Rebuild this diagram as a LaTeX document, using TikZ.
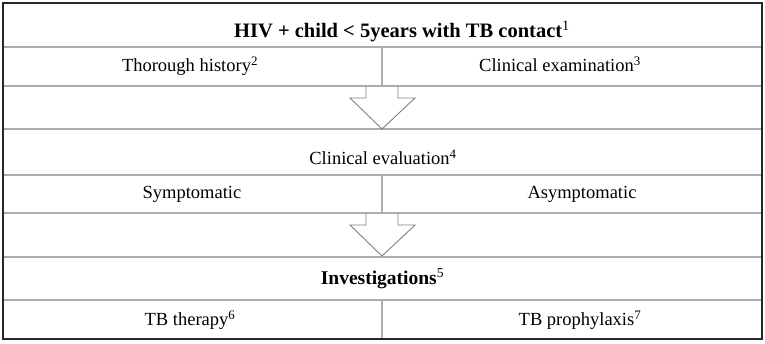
\documentclass[tikz,border=0pt]{standalone}
\usepackage{fontspec}
\setmainfont{Liberation Serif}
\usetikzlibrary{positioning}

\begin{document}
\begin{tikzpicture}[
  x=1pt, y=-1pt,
  font=\fontsize{18.5}{22}\selectfont,
  cell/.style={inner sep=0pt, anchor=base},
  headcell/.style={cell, font=\fontsize{20.5}{24}\selectfont\bfseries},
  rule/.style={draw=black!32, line width=1.4pt},
  frame/.style={draw=black!85, line width=1.6pt},
  blockarrow/.style={draw=black!50, line width=0.9pt, line join=miter}
]
\useasboundingbox (0,0) rectangle (765,344);

% table rules
\foreach \y in {47,86,129,175,213,257,300}
  \draw[rule] (3,\y) -- (762,\y);
\draw[rule] (382,47) -- (382,86);
\draw[rule] (382,175) -- (382,213);
\draw[rule] (382,300) -- (382,339);

% down arrows between the rows
\foreach \t in {86,213}
  \draw[blockarrow] (366,\t) -- (366,\t+12) -- (350,\t+12) -- (382,\t+43)
    -- (415,\t+12) -- (398,\t+12) -- (398,\t);

\draw[frame] (3,3) rectangle (762,339);

% cell texts
\node[headcell] (contact) at (402,38) {HIV + child < 5years with TB contact\textsuperscript{\mdseries 1}};
\node[cell] (history) at (190,72) {Thorough history\textsuperscript{2}};
\node[cell] (exam) at (560,72) {Clinical examination\textsuperscript{3}};
\node[cell] (evaluation) at (383,165) {Clinical evaluation\textsuperscript{4}};
\node[cell] (symptomatic) at (192,199) {Symptomatic};
\node[cell] (asymptomatic) at (582,199) {Asymptomatic};
\node[headcell, font=\fontsize{19.5}{23}\selectfont\bfseries] (investigations) at (382.5,285) {Investigations\textsuperscript{\mdseries 5}};
\node[cell] (therapy) at (190,326) {TB therapy\textsuperscript{6}};
\node[cell] (prophylaxis) at (580,326) {TB prophylaxis\textsuperscript{7}};

\end{tikzpicture}
\end{document}
